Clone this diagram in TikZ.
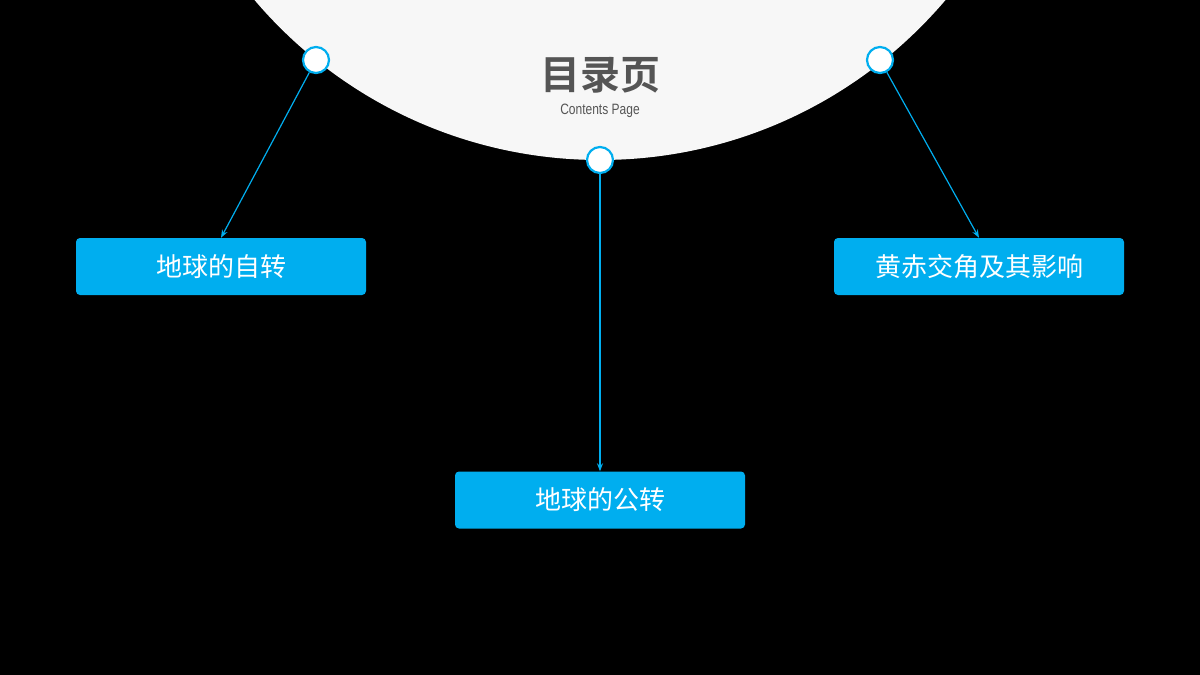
\documentclass[tikz,border=0pt]{standalone}
\usepackage{fontspec}
\setmainfont{Liberation Sans}
\newfontfamily\cjk{Noto Sans CJK SC}
\newfontfamily\cjkbold{Noto Sans CJK SC Bold}
\usetikzlibrary{arrows.meta}
\definecolor{topicblue}{HTML}{00AEEF}
\definecolor{pagegray}{HTML}{F7F7F7}
\definecolor{titlegray}{HTML}{555555}
\begin{document}
\begin{tikzpicture}[x=1pt,y=-1pt]
\tikzset{
  topic/.style={fill=topicblue,rounded corners=4pt,minimum width=290pt,minimum height=57pt,
    text=white,font=\cjk\fontsize{26}{30}\selectfont,inner sep=0pt},
  pin/.style={circle,draw=topicblue,line width=2.2pt,fill=white,minimum size=26pt,inner sep=0pt},
  link/.style={draw=topicblue,line width=1.2pt,-{Stealth[length=8pt,width=6pt]}}
}
\fill[black] (0,0) rectangle (1200,675);
\useasboundingbox (0,0) rectangle (1200,675);
\begin{scope}
\clip (0,0) rectangle (1200,675);
\fill[pagegray] (600,-293) circle (453);
\end{scope}
% title
\node[text=titlegray,font=\cjkbold\fontsize{40}{44}\selectfont] (title) at (600,75) {目录页};
\node[text=titlegray,font=\fontsize{15}{17}\selectfont,xscale=0.8] (subtitle) at (600,111) {Contents Page};
% pins
\node[pin] (pinL) at (316,60) {};
\node[pin] (pinC) at (600,160) {};
\node[pin] (pinR) at (880,60) {};
% topics
\node[topic] (rotation) at (221,266.5) {地球的自转};
\node[topic] (revolution) at (600,500) {地球的公转};
\node[topic] (obliquity) at (979,266.5) {黄赤交角及其影响};
% links
\draw[link] (pinL) -- (rotation.north);
\draw[link] (pinC) -- (revolution.north);
\draw[link] (pinR) -- (obliquity.north);
\end{tikzpicture}
\end{document}
